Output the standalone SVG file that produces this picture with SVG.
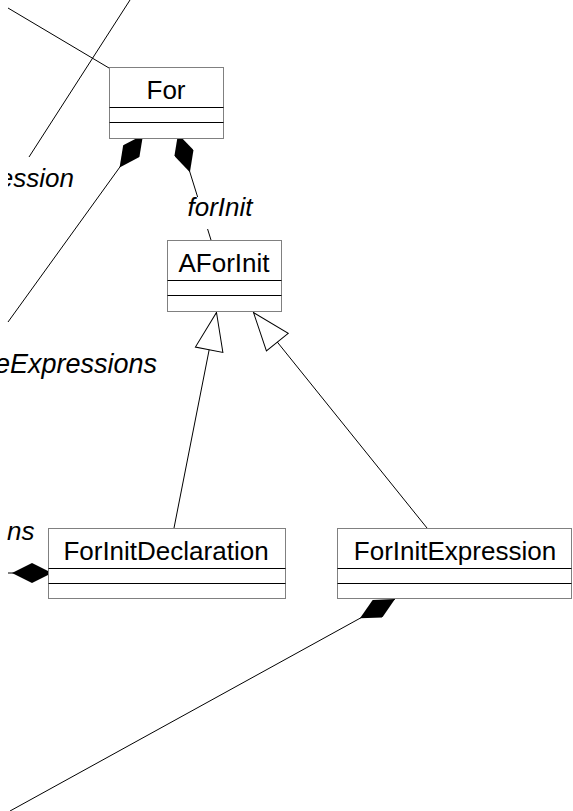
<svg xmlns="http://www.w3.org/2000/svg" width="573" height="811" viewBox="0 0 573 811">
<style>
.box{fill:#fff;stroke:#808080;stroke-width:1}
.sep{stroke:#000;stroke-width:1}
.name{font-family:"Liberation Sans",Arial,sans-serif;font-size:26px;text-anchor:middle;fill:#000}
.lbl{font-family:"Liberation Sans",Arial,sans-serif;font-size:26px;font-style:italic;fill:#000}
.edge{stroke:#000;stroke-width:1;fill:none}
.comp{marker-start:url(#diamond)}
.gen{marker-start:url(#triangle)}
</style>
<defs>
<marker id="diamond" markerUnits="userSpaceOnUse" viewBox="0 -10 40 20" refX="0" refY="0" markerWidth="40" markerHeight="20" orient="auto">
<path d="M0,0 L20,-10 L40,0 L20,10 Z" fill="#000"/>
</marker>
<marker id="triangle" markerUnits="userSpaceOnUse" viewBox="-1 -15 41 30" refX="0" refY="0" markerWidth="41" markerHeight="30" orient="auto">
<path d="M0,0 L38,-14 L38,14 Z" fill="#fff" stroke="#000" stroke-width="1"/>
</marker>
<clipPath id="leftclip"><rect x="8" y="0" width="565" height="811"/></clipPath>
</defs>
<g id="connectors">
<line class="edge" x1="8" y1="8" x2="109" y2="68"/>
<line class="edge" x1="130" y1="0" x2="29" y2="157"/>
<line class="edge comp" x1="143" y1="135" x2="8" y2="322"/>
<line class="edge comp" x1="178" y1="134" x2="211" y2="240"/>
<line class="edge gen" x1="216.5" y1="312.5" x2="174" y2="528"/>
<line class="edge gen" x1="253.5" y1="312.5" x2="427" y2="528"/>
<line class="edge comp" x1="52" y1="573" x2="8" y2="573"/>
<line class="edge comp" x1="395" y1="599" x2="10" y2="811"/>
</g>
<g id="labels">
<rect x="186" y="197" width="68" height="32" fill="#fff"/>
<text class="lbl" x="220" y="216" text-anchor="middle">forInit</text>
<text class="lbl" x="74" y="187" text-anchor="end" clip-path="url(#leftclip)">ession</text>
<text class="lbl" x="157" y="373" text-anchor="end" style="font-size:27px">eExpressions</text>
<text class="lbl" x="7" y="540">ns</text>
</g>
<g id="For">
<rect class="box" x="109.5" y="67.5" width="114" height="71"/>
<line class="sep" x1="109.5" y1="107.5" x2="223.5" y2="107.5"/>
<line class="sep" x1="109.5" y1="122.5" x2="223.5" y2="122.5"/>
<text class="name" x="166" y="99">For</text>
</g>
<g id="AForInit">
<rect class="box" x="167.5" y="240.5" width="114" height="71"/>
<line class="sep" x1="167.5" y1="280.5" x2="281.5" y2="280.5"/>
<line class="sep" x1="167.5" y1="295.5" x2="281.5" y2="295.5"/>
<text class="name" x="224" y="272">AForInit</text>
</g>
<g id="ForInitDeclaration">
<rect class="box" x="48.5" y="528.5" width="237" height="70"/>
<line class="sep" x1="48.5" y1="568.5" x2="285.5" y2="568.5"/>
<line class="sep" x1="48.5" y1="583.5" x2="285.5" y2="583.5"/>
<text class="name" x="166" y="560">ForInitDeclaration</text>
</g>
<g id="ForInitExpression">
<rect class="box" x="337.5" y="528.5" width="234" height="70"/>
<line class="sep" x1="337.5" y1="568.5" x2="571.5" y2="568.5"/>
<line class="sep" x1="337.5" y1="583.5" x2="571.5" y2="583.5"/>
<text class="name" x="455" y="560">ForInitExpression</text>
</g>
</svg>
